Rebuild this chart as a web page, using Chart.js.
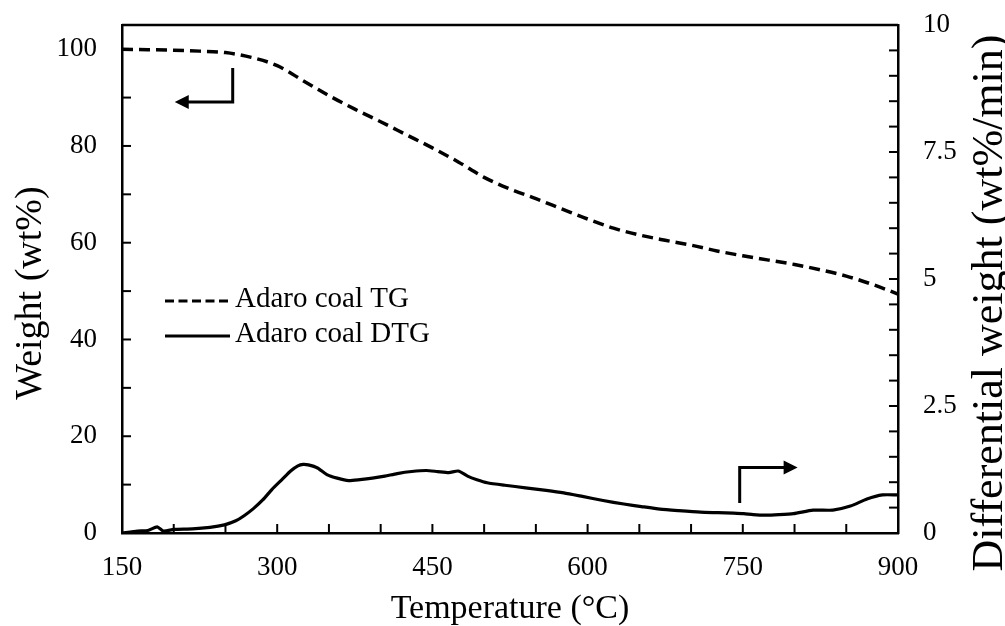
<!DOCTYPE html>
<html>
<head>
<meta charset="utf-8">
<script src="https://cdn.jsdelivr.net/npm/chart.js@4/dist/chart.umd.min.js"></script>
<style>
  body { margin: 0; background: #fff; }
  #wrap { width: 1005px; height: 626px; }
</style>
</head>
<body>
<div id="wrap"><canvas id="tgChart" width="1005" height="626"></canvas></div>
<script>
// Datos TG (peso, eje izquierdo)
const tgTemps = [150, 175, 200, 225, 250, 275, 300, 325, 350, 375, 400, 425, 450, 475, 500, 525, 550, 575, 600, 625, 650, 675, 700, 725, 750, 775, 800, 825, 850, 875, 900];
const tgWeight = [100, 99.9, 99.8, 99.6, 99.3, 98.3, 96.6, 93.5, 90.4, 87.6, 85.0, 82.3, 79.6, 76.7, 73.5, 71.1, 69.1, 67.0, 64.9, 63.0, 61.6, 60.5, 59.5, 58.3, 57.3, 56.4, 55.5, 54.4, 53.1, 51.4, 49.4];

// Datos DTG (eje derecho)
const dtgTemps = [150, 165, 175, 184, 190, 200, 218, 235, 249, 260, 268, 277, 286, 295, 305, 313, 320, 325, 330, 339, 348, 358, 369, 380, 392, 404, 416, 430, 444, 455, 466, 475, 484, 493, 503, 520, 540, 560, 577, 595, 615, 635, 652, 670, 688, 709, 726, 741, 751, 760, 772, 785, 799, 818, 837, 854, 870, 885, 900];
const dtgRate = [0, 0.04, 0.05, 0.12, 0.04, 0.07, 0.08, 0.11, 0.16, 0.24, 0.34, 0.48, 0.65, 0.86, 1.06, 1.22, 1.32, 1.35, 1.34, 1.28, 1.15, 1.08, 1.03, 1.05, 1.08, 1.12, 1.17, 1.21, 1.23, 1.21, 1.19, 1.22, 1.12, 1.05, 0.99, 0.94, 0.89, 0.84, 0.79, 0.72, 0.64, 0.57, 0.52, 0.47, 0.44, 0.41, 0.40, 0.39, 0.38, 0.36, 0.35, 0.36, 0.38, 0.45, 0.45, 0.53, 0.67, 0.75, 0.75];

const serieLabels = ["Adaro coal TG", "Adaro coal DTG"];

// Marcas de los ejes
const xTicks = [150, 200, 250, 300, 350, 400, 450, 500, 550, 600, 650, 700, 750, 800, 850, 900];
const yTicks = [0, 10, 20, 30, 40, 50, 60, 70, 80, 90, 100];
const y1Ticks = [0, 0.5, 1, 1.5, 2, 2.5, 3, 3.5, 4, 4.5, 5, 5.5, 6, 6.5, 7, 7.5, 8, 8.5, 9, 9.5, 10];

// Flechas (coordenadas de datos)
const flechaTG = { x: 257, yTop: 96.1, yElbow: 89.1, tip: 201 };
const flechaDTG = { x: 747, yBottom: 0.59, yElbow: 1.29, tip: 803 };

const fuente = "'Liberation Serif', 'Times New Roman', serif";

function puntos(xs, ys) {
    return xs.map((x, i) => ({ x: x, y: ys[i] }));
}

function fijarTicks(valores) {
    return s => { s.ticks = valores.map(v => ({ value: v })); };
}

function sinPadding(s) {
    s.paddingTop = 0;
    s.paddingBottom = 0;
    s.paddingLeft = 0;
    s.paddingRight = 0;
}

// Marcas hacia adentro, borde superior, titulos verticales, leyenda y flechas
const extras = {
    id: 'extras',
    afterDraw(chart) {
        const ctx = chart.ctx;
        const area = chart.chartArea;
        const sx = chart.scales.x, sy = chart.scales.y, sy1 = chart.scales.y1;
        ctx.save();
        ctx.strokeStyle = '#000';
        ctx.fillStyle = '#000';

        // borde superior
        ctx.lineWidth = 2.5;
        ctx.beginPath();
        ctx.moveTo(area.left, area.top);
        ctx.lineTo(area.right, area.top);
        ctx.stroke();

        ctx.lineWidth = 2;
        sx.ticks.forEach(t => {
            const px = sx.getPixelForValue(t.value);
            ctx.beginPath();
            ctx.moveTo(px, area.bottom);
            ctx.lineTo(px, area.bottom - 9);
            ctx.stroke();
        });
        sy.ticks.forEach(t => {
            const py = sy.getPixelForValue(t.value);
            ctx.beginPath();
            ctx.moveTo(area.left, py);
            ctx.lineTo(area.left + 9, py);
            ctx.stroke();
        });
        sy1.ticks.forEach(t => {
            const py = sy1.getPixelForValue(t.value);
            ctx.beginPath();
            ctx.moveTo(area.right, py);
            ctx.lineTo(area.right - 9, py);
            ctx.stroke();
        });

        // titulos verticales
        ctx.textAlign = 'center';
        ctx.textBaseline = 'alphabetic';
        ctx.font = '38px ' + fuente;
        ctx.save();
        ctx.translate(41, 293);
        ctx.rotate(-Math.PI / 2);
        ctx.fillText('Weight (wt%)', 0, 0);
        ctx.restore();
        ctx.font = '44px ' + fuente;
        ctx.save();
        ctx.translate(1002, 303);
        ctx.rotate(-Math.PI / 2);
        ctx.fillText('Differential weight (wt%/min)', 0, 0);
        ctx.restore();

        // leyenda
        ctx.lineWidth = 3;
        ctx.setLineDash([9, 4.5]);
        ctx.beginPath();
        ctx.moveTo(165, 301);
        ctx.lineTo(230, 301);
        ctx.stroke();
        ctx.setLineDash([]);
        ctx.beginPath();
        ctx.moveTo(165, 336);
        ctx.lineTo(230, 336);
        ctx.stroke();
        ctx.textAlign = 'left';
        ctx.font = '29px ' + fuente;
        ctx.fillText(serieLabels[0], 235, 307);
        ctx.fillText(serieLabels[1], 235, 342);

        // flechas
        ctx.lineWidth = 3;
        const ax = sx.getPixelForValue(flechaTG.x);
        const ay0 = sy.getPixelForValue(flechaTG.yTop);
        const ay1 = sy.getPixelForValue(flechaTG.yElbow);
        const atip = sx.getPixelForValue(flechaTG.tip);
        ctx.beginPath();
        ctx.moveTo(ax, ay0);
        ctx.lineTo(ax, ay1);
        ctx.lineTo(atip + 12, ay1);
        ctx.stroke();
        ctx.beginPath();
        ctx.moveTo(atip, ay1);
        ctx.lineTo(atip + 14, ay1 - 7);
        ctx.lineTo(atip + 14, ay1 + 7);
        ctx.closePath();
        ctx.fill();

        const bx = sx.getPixelForValue(flechaDTG.x);
        const by0 = sy1.getPixelForValue(flechaDTG.yBottom);
        const by1 = sy1.getPixelForValue(flechaDTG.yElbow);
        const btip = sx.getPixelForValue(flechaDTG.tip);
        ctx.beginPath();
        ctx.moveTo(bx, by0);
        ctx.lineTo(bx, by1);
        ctx.lineTo(btip - 12, by1);
        ctx.stroke();
        ctx.beginPath();
        ctx.moveTo(btip, by1);
        ctx.lineTo(btip - 14, by1 - 7);
        ctx.lineTo(btip - 14, by1 + 7);
        ctx.closePath();
        ctx.fill();

        ctx.restore();
    }
};

const ctg = document.getElementById('tgChart');

new Chart(ctg, {
    type: 'line',
    data: {
        datasets: [
            {
                label: serieLabels[0],
                data: puntos(tgTemps, tgWeight),
                yAxisID: 'y',
                borderColor: '#000',
                borderWidth: 3.5,
                borderDash: [11, 6],
                pointRadius: 0,
                cubicInterpolationMode: 'monotone'
            },
            {
                label: serieLabels[1],
                data: puntos(dtgTemps, dtgRate),
                yAxisID: 'y1',
                borderColor: '#000',
                borderWidth: 3.2,
                pointRadius: 0,
                tension: 0.2
            }
        ]
    },
    options: {
        responsive: false,
        animation: false,
        layout: { padding: { top: 25 } },
        plugins: {
            legend: { display: false },
            tooltip: { enabled: false }
        },
        scales: {
            x: {
                type: 'linear',
                min: 150,
                max: 900,
                grid: { display: true, drawOnChartArea: false, drawTicks: false },
                border: { display: true, color: '#000', width: 2.5 },
                ticks: {
                    autoSkip: false,
                    maxRotation: 0,
                    padding: 19,
                    color: '#000',
                    font: { family: fuente, size: 27 },
                    callback: v => ((v - 150) % 150 === 0 ? v : '')
                },
                title: {
                    display: true,
                    text: 'Temperature (°C)',
                    color: '#000',
                    padding: 0,
                    font: { family: fuente, size: 34, lineHeight: 1 }
                },
                afterBuildTicks: fijarTicks(xTicks),
                afterFit: s => { sinPadding(s); s.height = 93; }
            },
            y: {
                position: 'left',
                min: 0,
                max: 105,
                grid: { display: true, drawOnChartArea: false, drawTicks: false },
                border: { display: true, color: '#000', width: 2.5 },
                ticks: {
                    autoSkip: false,
                    padding: 25,
                    color: '#000',
                    font: { family: fuente, size: 27 },
                    callback: v => (v % 20 === 0 ? v : '')
                },
                afterBuildTicks: fijarTicks(yTicks),
                afterFit: s => { sinPadding(s); s.width = 122; }
            },
            y1: {
                position: 'right',
                min: 0,
                max: 10,
                grid: { display: true, drawOnChartArea: false, drawTicks: false },
                border: { display: true, color: '#000', width: 2.5 },
                ticks: {
                    autoSkip: false,
                    padding: 25,
                    color: '#000',
                    font: { family: fuente, size: 27 },
                    callback: v => (v % 2.5 === 0 ? v : '')
                },
                afterBuildTicks: fijarTicks(y1Ticks),
                afterFit: s => { sinPadding(s); s.width = 107; }
            }
        }
    },
    plugins: [extras]
});
</script>
</body>
</html>
